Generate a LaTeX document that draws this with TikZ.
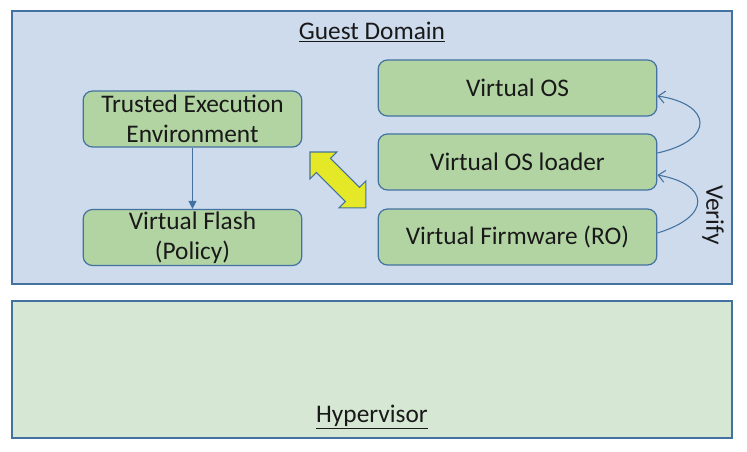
\documentclass[tikz,border=0pt]{standalone}
\usepackage{fontspec}
\setmainfont{Carlito}
\usepackage{tikz}
\usetikzlibrary{arrows.meta,positioning}
\definecolor{GuestBlue}{RGB}{205,219,236}
\definecolor{HyperGreen}{RGB}{214,231,211}
\definecolor{BoxGreen}{RGB}{178,212,162}
\definecolor{EdgeBlue}{RGB}{68,114,160}
\definecolor{VerifyYellow}{RGB}{228,232,38}
\tikzset{layer style/.style={draw=EdgeBlue, line width=1pt},
	box style/.style={draw=EdgeBlue, fill=BoxGreen, rounded corners=7pt, line width=0.9pt, align=center, inner sep=0pt, font=\fontsize{19}{22.5}\selectfont, text=black!90},
	left box/.style={box style, minimum width=164pt, minimum height=42pt},
	right box/.style={box style, minimum width=209pt, minimum height=42pt},
	title style/.style={font=\fontsize{19}{22.5}\selectfont, text=black!90}}

\begin{document}
\begin{tikzpicture}[x=0.75pt, y=-0.75pt]
\useasboundingbox (0,0) rectangle (747,451);

% layers
\draw[layer style, fill=GuestBlue] (12,11) rectangle (732,284);
\draw[layer style, fill=HyperGreen] (12,301) rectangle (732,438);

\node[title style] (G) at (372,32) {\underline{Guest Domain}};
\node[title style] (H) at (372,417) {\underline{Hypervisor}};

% left column
\node[left box] (TEE) at (192.5,119) {Trusted Execution\\Environment};
\node[left box] (VF) at (192.5,237.5) {Virtual Flash\\(Policy)};

% right column
\node[right box] (VOS) at (517.5,88) {Virtual OS};
\node[right box] (VOSL) at (517.5,162) {Virtual OS loader};
\node[right box] (VFW) at (517.5,237) {Virtual Firmware (RO)};

\draw[EdgeBlue, line width=0.8pt, -{Triangle[length=6pt, width=6pt]}] (TEE) -- (VF);

% verify chain
\draw[EdgeBlue, line width=0.8pt, -{Straight Barb[length=5pt, width=9pt]}] (VOSL.east |- 0,153) .. controls (716,140) and (712,104) .. (VOS.east |- 0,96);
\draw[EdgeBlue, line width=0.8pt, -{Straight Barb[length=5pt, width=9pt]}] (VFW.east |- 0,233) .. controls (713,216) and (709,184) .. (VOSL.east |- 0,175);
\node[title style, rotate=-90] (V) at (713,215) {Verify};

% double arrow
\coordinate (A) at (310,152);
\coordinate (B) at (366,208);
\draw[EdgeBlue, line width=0.8pt, fill=VerifyYellow, shift={(A)}, rotate=-45]
	(0,0) -- (19,-19) -- (19,-10) -- (60,-10) -- (60,-19) -- (79,0)
	-- (60,19) -- (60,10) -- (19,10) -- (19,19) -- cycle;
\end{tikzpicture}
\end{document}
